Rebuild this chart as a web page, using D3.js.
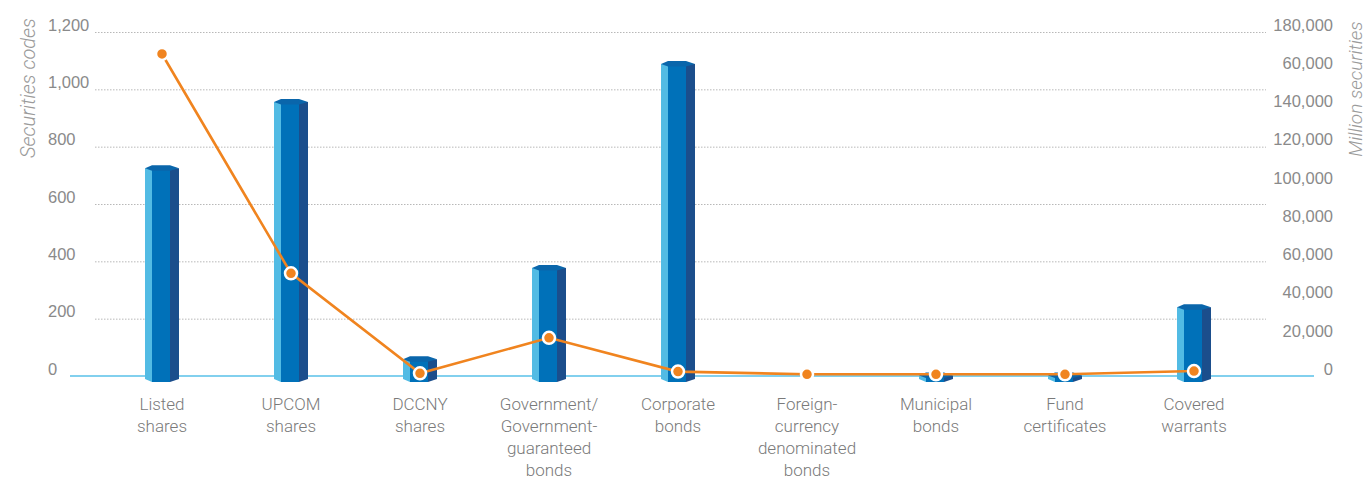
<!DOCTYPE html>
<html>
<head>
<meta charset="utf-8">
<script src="https://cdn.jsdelivr.net/npm/d3@7"></script>
<style>
  html, body { margin: 0; padding: 0; background: #fff; }
  svg { display: block; font-family: Roboto, "Noto Sans", sans-serif; }
</style>
</head>
<body>
<svg id="chart" width="1368" height="479"></svg>
<script>
// ---- data ----
const categories = [
  ["Listed", "shares"],
  ["UPCOM", "shares"],
  ["DCCNY", "shares"],
  ["Government/", "Government-", "guaranteed", "bonds"],
  ["Corporate", "bonds"],
  ["Foreign-", "currency", "denominated", "bonds"],
  ["Municipal", "bonds"],
  ["Fund", "certificates"],
  ["Covered", "warrants"]
];
const securitiesCodes = [725, 956, 58, 377, 1088, 0, 2, 2, 240];
const millionSecurities = [168500, 53700, 1400, 20000, 2300, 900, 900, 900, 2600];
const leftTicks = [0, 200, 400, 600, 800, 1000, 1200];
const leftTickLabels = ["0", "200", "400", "600", "800", "1,000", "1,200"];
const rightTickLabels = ["0", "20,000", "40,000", "60,000", "80,000", "100,000", "120,000", "140,000", "60,000", "180,000"];
const leftTitle = "Securities codes";
const rightTitle = "Million securities";

// ---- layout ----
const svg = d3.select("#chart");
const y0 = 376, yTop = 32;
const x = d3.scalePoint().domain(d3.range(categories.length)).range([97.5, 1258.5]).padding(0.5);
const yL = d3.scaleLinear().domain([0, 1200]).range([y0, yTop]);
const yR = d3.scaleLinear().domain([0, 180000]).range([y0, yTop]);
const yRLabels = d3.scalePoint().domain(d3.range(rightTickLabels.length)).range([369, 25]);

// gridlines
svg.append("g").selectAll("line").data(leftTicks.filter(d => d > 0)).join("line")
  .attr("x1", 95).attr("x2", 1266)
  .attr("y1", d => yL(d) + 0.5).attr("y2", d => yL(d) + 0.5)
  .attr("stroke", "#b8b8b8").attr("stroke-width", 1).attr("stroke-dasharray", "1.5,1.5");

// baseline
svg.append("line").attr("x1", 70).attr("x2", 1314).attr("y1", y0).attr("y2", y0)
  .attr("stroke", "#82d0ee").attr("stroke-width", 2);

// left axis
const gL = svg.append("g").attr("transform", "translate(48,-7)")
  .call(d3.axisLeft(yL).tickValues(leftTicks).tickSize(0).tickPadding(0)
    .tickFormat((d, i) => leftTickLabels[i]));
gL.select(".domain").remove();
gL.selectAll("text").attr("text-anchor", "start").attr("fill", "#8a8a8a")
  .style("font-size", "16.5px").style("font-weight", 300);

// right axis
const gR = svg.append("g").attr("transform", "translate(1333,0)")
  .call(d3.axisLeft(yRLabels).tickSize(0).tickPadding(0)
    .tickFormat(i => rightTickLabels[i]));
gR.select(".domain").remove();
gR.selectAll("text").attr("text-anchor", "end").attr("fill", "#8a8a8a")
  .style("font-size", "16.5px").style("font-weight", 300);

// axis titles
svg.append("text").attr("transform", "translate(35,88) rotate(-90)")
  .attr("text-anchor", "middle").attr("fill", "#9a9a9a")
  .style("font-size", "20px").style("font-style", "italic").style("font-weight", 300)
  .text(leftTitle);
svg.append("text").attr("transform", "translate(1362,89) rotate(-90)")
  .attr("text-anchor", "middle").attr("fill", "#9a9a9a")
  .style("font-size", "19px").style("font-style", "italic").style("font-weight", 300)
  .text(rightTitle);

// bars (3D-ish hexagonal columns)
const yb = 379;
const bars = svg.append("g").selectAll("g").data(securitiesCodes).join("g")
  .attr("transform", (d, i) => `translate(${x(i)},0)`)
  .style("display", d => d > 0 ? null : "none");
bars.append("polygon").attr("fill", "#52bbe4")
  .attr("points", d => { const t = yL(d); return `-17,${t} -10,${t} -10,${yb + 3} -17,${yb}`; });
bars.append("polygon").attr("fill", "#0071b9")
  .attr("points", d => { const t = yL(d); return `-10,${t} 8,${t} 8,${yb + 3} -10,${yb + 3}`; });
bars.append("polygon").attr("fill", "#1b4e8c")
  .attr("points", d => { const t = yL(d); return `8,${t} 17,${t} 17,${yb} 8,${yb + 3}`; });
bars.append("polygon").attr("fill", "#0a66ab")
  .attr("points", d => { const t = yL(d); return `-17,${t} -10,${t - 3} 8,${t - 3} 17,${t} 8,${t + 2.5} -10,${t + 2.5}`; });

// line
const line = d3.line().x((d, i) => x(i)).y(d => yR(d));
svg.append("path").datum(millionSecurities).attr("d", line)
  .attr("fill", "none").attr("stroke", "#f0841f").attr("stroke-width", 2.6);
svg.append("g").selectAll("circle").data(millionSecurities).join("circle")
  .attr("cx", (d, i) => x(i)).attr("cy", d => yR(d)).attr("r", 6)
  .attr("fill", "#f0841f").attr("stroke", "#fff").attr("stroke-width", 2.5);

// x labels
const lab = svg.append("g").selectAll("text").data(categories).join("text")
  .attr("x", (d, i) => x(i)).attr("y", 410)
  .attr("text-anchor", "middle").attr("fill", "#7a7a7a")
  .style("font-size", "17px").style("font-weight", 300);
lab.selectAll("tspan").data(d => d).join("tspan")
  .attr("x", function () { return d3.select(this.parentNode).attr("x"); })
  .attr("dy", (d, i) => i === 0 ? 0 : 22)
  .text(d => d);
</script>
</body>
</html>
